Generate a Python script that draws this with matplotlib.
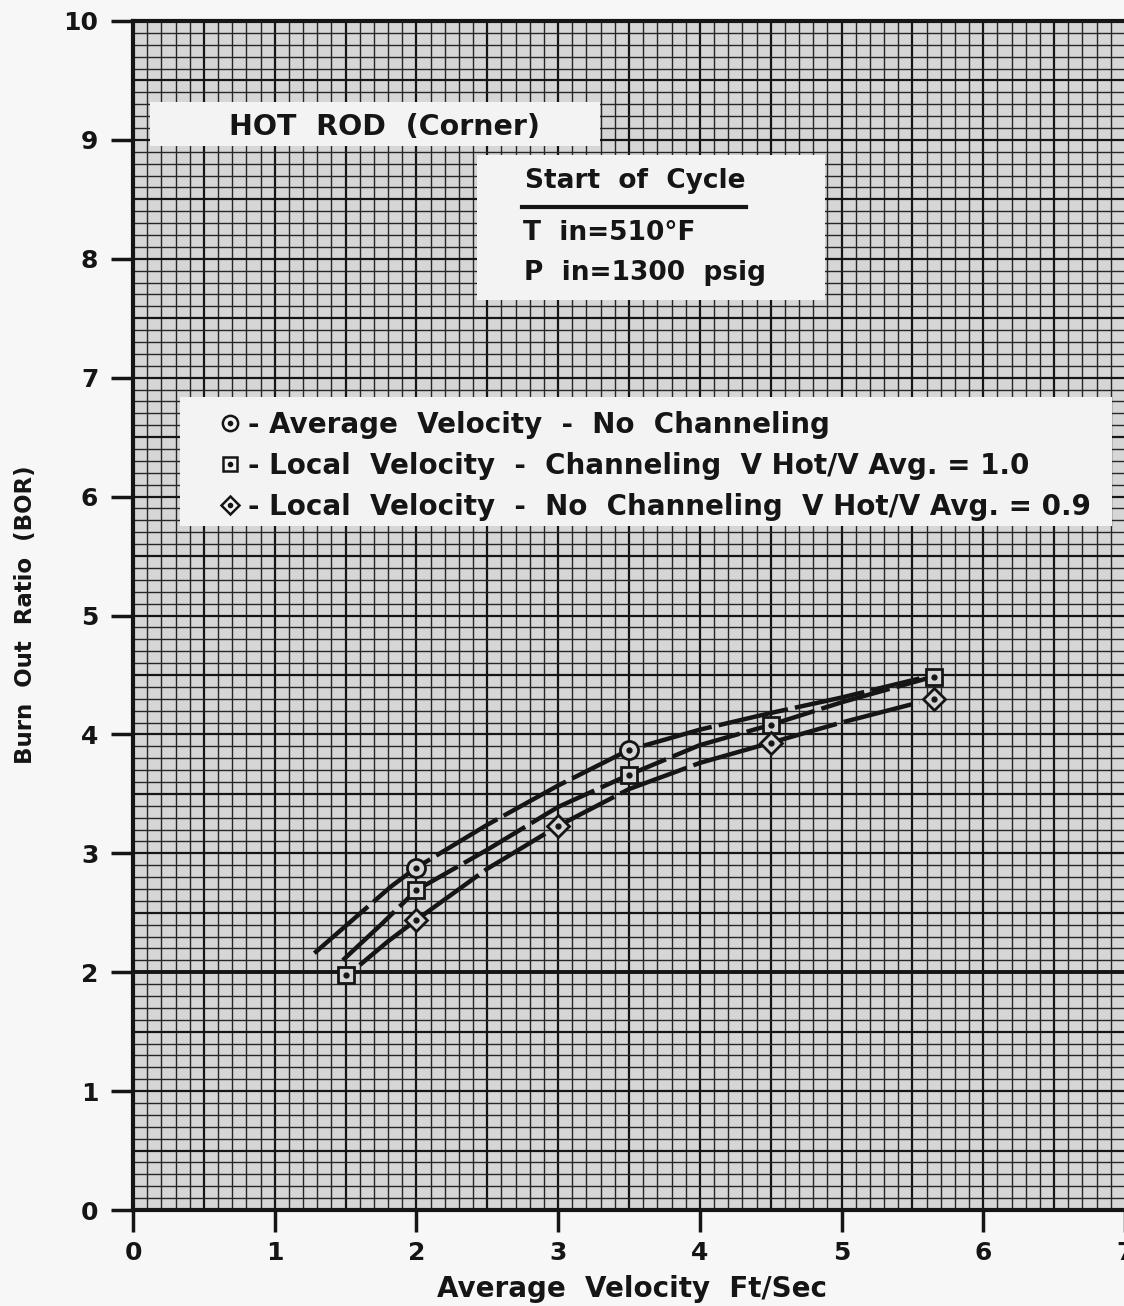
import matplotlib
matplotlib.use("Agg")
import matplotlib.pyplot as plt
from matplotlib.patches import Rectangle
from matplotlib.lines import Line2D
from matplotlib.legend_handler import HandlerTuple
import numpy as np

# ---------------- data ----------------
avg_mark_x = [2.0, 3.5]
avg_mark_y = [2.88, 3.87]
avg_curve_x = [1.28, 1.55, 1.82, 2.0, 2.5, 3.0, 3.5, 4.0, 4.5, 5.0, 5.55]
avg_curve_y = [2.16, 2.44, 2.72, 2.88, 3.24, 3.57, 3.87, 4.04, 4.18, 4.31, 4.47]

chan_mark_x = [1.5, 2.0, 3.5, 4.5, 5.65]
chan_mark_y = [1.98, 2.69, 3.66, 4.08, 4.48]
chan_curve_x = [1.48, 1.75, 2.0, 2.5, 3.0, 3.5, 4.0, 4.5, 5.0, 5.6]
chan_curve_y = [2.10, 2.40, 2.69, 3.03, 3.39, 3.66, 3.91, 4.08, 4.27, 4.47]

noch_mark_x = [2.0, 3.0, 4.5, 5.65]
noch_mark_y = [2.44, 3.23, 3.93, 4.30]
noch_curve_x = [1.6, 1.8, 2.0, 2.5, 3.0, 3.5, 4.0, 4.5, 5.0, 5.55]
noch_curve_y = [2.06, 2.26, 2.44, 2.87, 3.23, 3.54, 3.76, 3.93, 4.10, 4.27]

x_ticks = [0, 1, 2, 3, 4, 5, 6, 7]
y_ticks = [0, 1, 2, 3, 4, 5, 6, 7, 8, 9, 10]
x_label = "Average  Velocity  Ft/Sec"
y_label = "Burn  Out  Ratio  (BOR)"
legend_labels = ["- Average  Velocity  -  No  Channeling",
                 "- Local  Velocity  -  Channeling  V Hot/V Avg. = 1.0",
                 "- Local  Velocity  -  No  Channeling  V Hot/V Avg. = 0.9"]
title_text = "HOT  ROD  (Corner)"
cond_head = "Start  of  Cycle"
cond_lines = ["T  in=510°F", "P  in=1300  psig"]

# ---------------- layout helpers ----------------
W, H = 1124, 1306
PX0, PX7 = 133, 1125
PY0, PY10 = 1210, 21
FONT = ["DejaVu Sans"]
plt.rcParams['font.family'] = FONT
BG = "#d6d6d6"
BOX = "#f3f3f3"
INK = "#151515"

def af(px, py):
    return ((px - PX0) / (PX7 - PX0), (PY0 - py) / (PY0 - PY10))

fig = plt.figure(figsize=(W / 100, H / 100), dpi=100)
fig.patch.set_facecolor("#f7f7f7")
ax = fig.add_axes([PX0 / W, (H - PY0) / H, (PX7 - PX0) / W, (PY0 - PY10) / H])
ax.set_facecolor(BG)
ax.set_xlim(0, 7)
ax.set_ylim(0, 10)

# grid (graph paper)
for v in np.arange(0, 7.001, 0.1):
    major = abs(v * 2 - round(v * 2)) < 1e-6
    ax.axvline(v, color=INK if major else "#262626", lw=1.6 if major else 1.0, zorder=1)
for v in np.arange(0, 10.001, 0.1):
    major = abs(v * 2 - round(v * 2)) < 1e-6
    ax.axhline(v, color=INK if major else "#262626", lw=1.6 if major else 1.0, zorder=1)
ax.axhline(2.0, color=INK, lw=2.8, zorder=1.5)

for s in ax.spines.values():
    s.set_linewidth(3)
    s.set_color(INK)

ax.set_xticks(x_ticks)
ax.set_yticks(y_ticks)
ax.set_xticklabels([str(t) for t in x_ticks])
ax.set_yticklabels([str(t) for t in y_ticks])
ax.tick_params(axis='both', direction='out', length=16, width=2.5, color=INK,
               labelsize=18, labelcolor=INK)
for lab in ax.get_xticklabels() + ax.get_yticklabels():
    lab.set_fontweight('bold')
ax.tick_params(axis='y', pad=9)
ax.tick_params(axis='x', pad=6)

ax.set_xlabel(x_label, fontsize=20, fontweight='bold', color=INK)
ax.set_ylabel(y_label, fontsize=16.5, fontweight='bold', color=INK)
ax.xaxis.set_label_coords(*af(632, 1289))
ax.yaxis.set_label_coords(*af(26, 615))
ax.xaxis.label.set_va('center')
ax.yaxis.label.set_va('center')

# white boxes
def box(x1, y1, x2, y2):
    a = af(x1, y2)
    b = af(x2, y1)
    ax.add_patch(Rectangle(a, b[0] - a[0], b[1] - a[1], transform=ax.transAxes,
                           facecolor=BOX, edgecolor='none', zorder=2))

box(150, 102, 600, 146)
box(477, 155, 825, 300)
box(180, 397, 1112, 526)

tk = dict(transform=ax.transAxes, fontweight='bold', color=INK, zorder=6)
ax.text(*af(384, 127), title_text, ha='center', va='center', fontsize=20.5, **tk)
ax.text(*af(635, 181), cond_head, ha='center', va='center', fontsize=19, **tk)
p1, p2 = af(522, 207), af(746, 207)
ax.plot([p1[0], p2[0]], [p1[1], p2[1]], transform=ax.transAxes, color=INK, lw=3, zorder=6)
ax.text(*af(523, 233), cond_lines[0], ha='left', va='center', fontsize=19, **tk)
ax.text(*af(524, 273), cond_lines[1], ha='left', va='center', fontsize=19, **tk)

# curves
dash = (0, (16, 1.6))
for cx, cy in [(avg_curve_x, avg_curve_y), (chan_curve_x, chan_curve_y),
               (noch_curve_x, noch_curve_y)]:
    ax.plot(cx, cy, color=INK, lw=3.2, linestyle=dash, solid_capstyle='butt',
            dash_capstyle='butt', solid_joinstyle='round', zorder=3)

mk = dict(linestyle='none', markerfacecolor=BG, markeredgecolor=INK,
          markeredgewidth=2.0, zorder=4)
dot = dict(linestyle='none', marker='o', markersize=3.5, color=INK, zorder=5)
ax.plot(avg_mark_x, avg_mark_y, marker='o', markersize=13, **mk)
ax.plot(avg_mark_x, avg_mark_y, **dot)
ax.plot(chan_mark_x, chan_mark_y, marker='s', markersize=12, **mk)
ax.plot(chan_mark_x, chan_mark_y, **dot)
ax.plot(noch_mark_x, noch_mark_y, marker='D', markersize=11, **mk)
ax.plot(noch_mark_x, noch_mark_y, **dot)

# legend
def h(marker, ms):
    return (Line2D([], [], marker=marker, markersize=ms, linestyle='none',
                   markerfacecolor=BOX, markeredgecolor=INK, markeredgewidth=1.8),
            Line2D([], [], marker='o', markersize=3, linestyle='none', color=INK))
handles = [h('o', 11), h('s', 10), h('D', 9.5)]
lg = ax.legend(handles, legend_labels, loc='upper left',
               bbox_to_anchor=af(205, 397), frameon=False,
               handler_map={tuple: HandlerTuple(ndivide=1)},
               prop=dict(family=FONT, weight='bold', size=20),
               labelspacing=0.47, handlelength=0.8, handletextpad=0.25,
               borderpad=0, labelcolor=INK)
lg.set_zorder(7)

fig.savefig("out.png", dpi=100, facecolor=fig.get_facecolor())
